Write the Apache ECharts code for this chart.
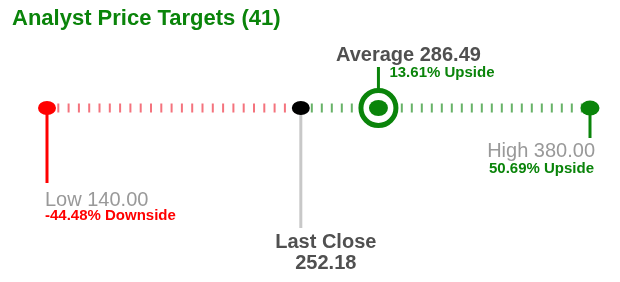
<!DOCTYPE html>
<html>
<head>
<meta charset="utf-8">
<script src="https://cdn.jsdelivr.net/npm/echarts@6/dist/echarts.min.js"></script>
<style>
html,body{margin:0;padding:0;background:#fff;}
#c{width:620px;height:282px;}
</style>
</head>
<body>
<div id="c"></div>
<script>
// ---- data ----
const chartTitle = 'Analyst Price Targets (41)';
const lowTarget = 140.00;
const lastClose = 252.18;
const avgTarget = 286.49;
const highTarget = 380.00;
const lowPct = -44.48;
const avgPct = 13.61;
const highPct = 50.69;

// ---- styles ----
const FONT = "'Liberation Sans', Arial, sans-serif";
const GREEN = '#0a840a';
const RED = '#ff0000';
const DARK = '#505050';
const LIGHT = '#999999';

const fmt = v => v.toFixed(2);
const pct = v => v.toFixed(2) + '%';

function stem(x, y2, color) {
  return {
    type: 'line', data: [[x, 0], [x, y2]], symbol: 'none', clip: false, z: 2,
    lineStyle: { color: color, width: 3, opacity: 1 }, silent: true
  };
}
function lab(x, text, opt) {
  return {
    value: [x, 0],
    label: Object.assign({
      show: true, position: 'inside', formatter: text, fontFamily: FONT,
      verticalAlign: 'middle', opacity: 1
    }, opt)
  };
}

const chart = echarts.init(document.getElementById('c'), null, { renderer: 'canvas' });
chart.setOption({
  animation: false,
  title: {
    text: chartTitle, left: 7, top: 3,
    textStyle: { color: GREEN, fontSize: 22, fontWeight: 'bold', fontFamily: FONT }
  },
  grid: { left: 47, right: 30, top: 8, height: 200 },
  xAxis: { type: 'value', min: lowTarget, max: highTarget, show: false },
  yAxis: { type: 'value', min: -1, max: 1, show: false },
  series: [
    // dashed track
    { type: 'line', data: [[lowTarget, 0], [lastClose, 0]], symbol: 'none', z: 1, silent: true,
      lineStyle: { color: 'rgba(238,40,55,0.65)', width: 9, type: [2, 8.3], cap: 'butt' } },
    { type: 'line', data: [[lastClose, 0], [highTarget, 0]], symbol: 'none', z: 1, silent: true,
      lineStyle: { color: 'rgba(10,130,10,0.62)', width: 9, type: [2, 8.0], cap: 'butt' } },
    // stems
    stem(lowTarget, -0.75, RED),
    stem(lastClose, -1.2, '#c8c8c8'),
    stem(avgTarget, 0.41, GREEN),
    stem(highTarget, -0.3, GREEN),
    // dots
    { type: 'scatter', z: 5, silent: true, data: [
        { value: [lowTarget, 0], symbolSize: [18, 14], itemStyle: { color: RED, opacity: 1 } },
        { value: [lastClose, 0], symbolSize: [18, 14], itemStyle: { color: '#000', opacity: 1 } },
        { value: [highTarget, 0], symbolSize: [19, 15], itemStyle: { color: GREEN, opacity: 1 } },
        { value: [avgTarget, 0], symbolSize: 35, itemStyle: { color: '#fff', borderColor: GREEN, borderWidth: 5, opacity: 1 } }
      ] },
    { type: 'scatter', z: 6, silent: true, data: [
        { value: [avgTarget, 0], symbolSize: [19, 16], itemStyle: { color: GREEN, opacity: 1 } }
      ] },
    // labels
    { type: 'scatter', z: 7, silent: true, symbolSize: 1, itemStyle: { color: 'rgba(0,0,0,0)', opacity: 1 }, data: [
        lab(avgTarget, 'Average ' + fmt(avgTarget), { align: 'center', offset: [30, -53], fontSize: 20, fontWeight: 'bold', color: DARK }),
        lab(avgTarget, pct(avgPct) + ' Upside', { align: 'left', offset: [11, -35.5], fontSize: 15, fontWeight: 'bold', color: GREEN }),
        lab(highTarget, 'High ' + fmt(highTarget), { align: 'right', offset: [5, 43], fontSize: 20, color: LIGHT }),
        lab(highTarget, pct(highPct) + ' Upside', { align: 'right', offset: [4, 61], fontSize: 15, fontWeight: 'bold', color: GREEN }),
        lab(lowTarget, 'Low ' + fmt(lowTarget), { align: 'left', offset: [-2, 92], fontSize: 20, color: LIGHT }),
        lab(lowTarget, pct(lowPct) + ' Downside', { align: 'left', offset: [-2, 108], fontSize: 15, fontWeight: 'bold', color: RED }),
        lab(lastClose, 'Last Close', { align: 'center', offset: [25, 134], fontSize: 20, fontWeight: 'bold', color: DARK }),
        lab(lastClose, fmt(lastClose), { align: 'center', offset: [25, 155], fontSize: 20, fontWeight: 'bold', color: DARK })
      ] }
  ]
});
</script>
</body>
</html>
